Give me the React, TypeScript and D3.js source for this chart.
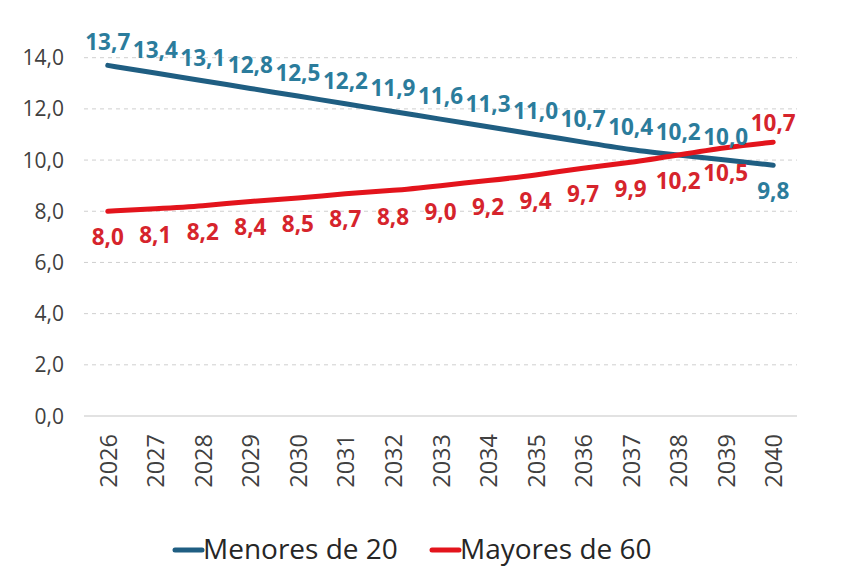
import * as d3 from 'd3';

const years = ['2026', '2027', '2028', '2029', '2030', '2031', '2032', '2033', '2034', '2035', '2036', '2037', '2038', '2039', '2040'];
const menores = [13.7, 13.4, 13.1, 12.8, 12.5, 12.2, 11.9, 11.6, 11.3, 11.0, 10.7, 10.4, 10.2, 10.0, 9.8];
const mayores = [8.0, 8.1, 8.2, 8.4, 8.5, 8.7, 8.8, 9.0, 9.2, 9.4, 9.7, 9.9, 10.2, 10.5, 10.7];
const yTicks = [0, 2, 4, 6, 8, 10, 12, 14];
const seriesNames = ['Menores de 20', 'Mayores de 60'];

const width = 859;
const height = 579;
const font = '"Open Sans", "DejaVu Sans", sans-serif';

const fmt = (v: number) => d3.format('.1f')(v).replace('.', ',');

export default function App() {
  const x = d3.scaleBand<string>().domain(years).range([84, 797]);
  const cx = (d: string) => (x(d) as number) + x.bandwidth() / 2;
  const y = d3.scaleLinear().domain([0, 14]).range([416, 57.7]);

  // labels are rounded, so a basis curve gives the smooth look of the original
  const line = d3
    .line<number>()
    .x((_, i) => cx(years[i]))
    .y((d) => y(d))
    .curve(d3.curveBasis);

  const series = [
    { name: seriesNames[0], values: menores, line: '#1f5e82', label: '#2b7c9c', above: true },
    { name: seriesNames[1], values: mayores, line: '#e3141c', label: '#d6242c', above: false },
  ];

  return (
    <svg
      width={width}
      height={height}
      viewBox={`0 0 ${width} ${height}`}
      style={{ position: 'absolute', left: 0, top: 0, background: '#fff' }}
    >
      {/* grid */}
      {yTicks.map((t) => (
        <g key={t}>
          <line
            x1={84}
            x2={797}
            y1={y(t)}
            y2={y(t)}
            stroke={t === 0 ? '#d9d9d9' : '#cfcfcf'}
            strokeWidth={t === 0 ? 1.5 : 1}
            strokeDasharray={t === 0 ? undefined : '4 4'}
          />
          <text
            x={64}
            y={y(t)}
            dy="0.36em"
            textAnchor="end"
            fontFamily={font}
            fontSize={21}
            fill="#404040"
          >
            {fmt(t)}
          </text>
        </g>
      ))}

      {/* x labels */}
      {years.map((yr) => (
        <text
          key={yr}
          transform={`translate(${cx(yr) + 9},434) rotate(-90)`}
          textAnchor="end"
          fontFamily={font}
          fontSize={23.5}
          fill="#404040"
        >
          {yr}
        </text>
      ))}

      {/* lines */}
      {series.map((s) => (
        <path
          key={s.name}
          d={line(s.values) as string}
          fill="none"
          stroke={s.line}
          strokeWidth={5}
          strokeLinejoin="round"
          strokeLinecap="round"
        />
      ))}

      {/* data labels */}
      {series.map((s) =>
        s.values.map((v, i) => {
          const last = i === s.values.length - 1;
          const above = last ? !s.above : s.above;
          const dy = above ? (s.above ? -15 : -11) : 34;
          return (
            <text
              key={s.name + i}
              x={cx(years[i])}
              y={y(v) + dy}
              textAnchor="middle"
              fontFamily={font}
              fontWeight={700}
              fontSize={22.5}
              fill={s.label}
            >
              {fmt(v)}
            </text>
          );
        })
      )}

      {/* legend */}
      {series.map((s, i) => {
        const lx = i === 0 ? 175 : 432;
        return (
          <g key={s.name}>
            <line x1={lx} x2={lx + 27} y1={550} y2={550} stroke={s.line} strokeWidth={5} strokeLinecap="round" />
            <text x={lx + 28} y={559} fontFamily={font} fontSize={28} fill="#262626">
              {s.name}
            </text>
          </g>
        );
      })}
    </svg>
  );
}
